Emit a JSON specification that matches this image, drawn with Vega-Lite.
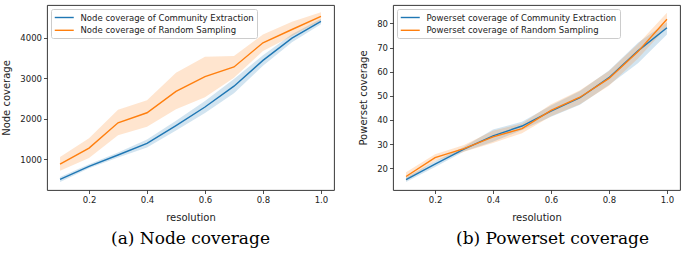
{
  "$schema": "https://vega.github.io/schema/vega-lite/v6.json",
  "padding": {"left": 1, "top": 4, "right": 5, "bottom": 0},
  "spacing": 23,
  "config": {
    "view": {"stroke": "#222222", "strokeWidth": 0.9},
    "font": "DejaVu Sans",
    "axis": {"domain": false, "grid": false, "tickColor": "#222222", "tickSize": 3.5, "tickWidth": 0.8, "labelFont": "DejaVu Sans", "labelFontSize": 8.5, "labelColor": "#222222", "titleFont": "DejaVu Sans", "titleFontSize": 10, "titleFontWeight": "normal", "titleColor": "#222222", "labelPadding": 2, "titlePadding": 8},
    "legend": {"orient": "top-left", "offset": 4, "fillColor": "rgba(255,255,255,0.8)", "strokeColor": "#cccccc", "cornerRadius": 2, "padding": 3, "symbolType": "M-1,0H3", "symbolSize": 90.25, "symbolStrokeWidth": 1.4, "labelFont": "DejaVu Sans", "labelFontSize": 8.5, "labelOffset": 15.5, "rowPadding": 2.8, "labelColor": "#222222", "labelLimit": 0},
    "title": {"font": "DejaVu Serif", "fontSize": 17, "fontWeight": "normal", "orient": "bottom", "color": "#000000", "offset": 9, "anchor": "middle"}
  },
  "datasets": {
    "d": [
      {"panel": "node", "series": "Node coverage of Community Extraction", "resolution": 0.1, "value": 500, "lo": 440, "hi": 560},
      {"panel": "node", "series": "Node coverage of Community Extraction", "resolution": 0.2, "value": 825, "lo": 775, "hi": 875},
      {"panel": "node", "series": "Node coverage of Community Extraction", "resolution": 0.3, "value": 1105, "lo": 1045, "hi": 1165},
      {"panel": "node", "series": "Node coverage of Community Extraction", "resolution": 0.4, "value": 1390, "lo": 1290, "hi": 1490},
      {"panel": "node", "series": "Node coverage of Community Extraction", "resolution": 0.5, "value": 1830, "lo": 1710, "hi": 1950},
      {"panel": "node", "series": "Node coverage of Community Extraction", "resolution": 0.6, "value": 2290, "lo": 2140, "hi": 2440},
      {"panel": "node", "series": "Node coverage of Community Extraction", "resolution": 0.7, "value": 2805, "lo": 2630, "hi": 2980},
      {"panel": "node", "series": "Node coverage of Community Extraction", "resolution": 0.8, "value": 3442, "lo": 3310, "hi": 3570},
      {"panel": "node", "series": "Node coverage of Community Extraction", "resolution": 0.9, "value": 3992, "lo": 3890, "hi": 4090},
      {"panel": "node", "series": "Node coverage of Community Extraction", "resolution": 1.0, "value": 4405, "lo": 4335, "hi": 4470},
      {"panel": "node", "series": "Node coverage of Random Sampling", "resolution": 0.1, "value": 878, "lo": 713, "hi": 1058},
      {"panel": "node", "series": "Node coverage of Random Sampling", "resolution": 0.2, "value": 1275, "lo": 1030, "hi": 1520},
      {"panel": "node", "series": "Node coverage of Random Sampling", "resolution": 0.3, "value": 1900, "lo": 1590, "hi": 2220},
      {"panel": "node", "series": "Node coverage of Random Sampling", "resolution": 0.4, "value": 2148, "lo": 1800, "hi": 2460},
      {"panel": "node", "series": "Node coverage of Random Sampling", "resolution": 0.5, "value": 2675, "lo": 2234, "hi": 3137},
      {"panel": "node", "series": "Node coverage of Random Sampling", "resolution": 0.6, "value": 3040, "lo": 2530, "hi": 3530},
      {"panel": "node", "series": "Node coverage of Random Sampling", "resolution": 0.7, "value": 3280, "lo": 3014, "hi": 3549},
      {"panel": "node", "series": "Node coverage of Random Sampling", "resolution": 0.8, "value": 3877, "lo": 3672, "hi": 4084},
      {"panel": "node", "series": "Node coverage of Random Sampling", "resolution": 0.9, "value": 4205, "lo": 4042, "hi": 4394},
      {"panel": "node", "series": "Node coverage of Random Sampling", "resolution": 1.0, "value": 4527, "lo": 4428, "hi": 4634},
      {"panel": "powerset", "series": "Powerset coverage of Community Extraction", "resolution": 0.1, "value": 15.3, "lo": 14.3, "hi": 16.3},
      {"panel": "powerset", "series": "Powerset coverage of Community Extraction", "resolution": 0.2, "value": 21.7, "lo": 20.5, "hi": 22.9},
      {"panel": "powerset", "series": "Powerset coverage of Community Extraction", "resolution": 0.3, "value": 27.9, "lo": 26.9, "hi": 28.9},
      {"panel": "powerset", "series": "Powerset coverage of Community Extraction", "resolution": 0.4, "value": 33.4, "lo": 31.0, "hi": 36.0},
      {"panel": "powerset", "series": "Powerset coverage of Community Extraction", "resolution": 0.5, "value": 37.5, "lo": 35.8, "hi": 39.3},
      {"panel": "powerset", "series": "Powerset coverage of Community Extraction", "resolution": 0.6, "value": 43.7, "lo": 41.3, "hi": 46.0},
      {"panel": "powerset", "series": "Powerset coverage of Community Extraction", "resolution": 0.7, "value": 49.2, "lo": 46.3, "hi": 52.0},
      {"panel": "powerset", "series": "Powerset coverage of Community Extraction", "resolution": 0.8, "value": 57.5, "lo": 54.5, "hi": 60.5},
      {"panel": "powerset", "series": "Powerset coverage of Community Extraction", "resolution": 0.9, "value": 68.6, "lo": 63.5, "hi": 72.0},
      {"panel": "powerset", "series": "Powerset coverage of Community Extraction", "resolution": 1.0, "value": 78.2, "lo": 75.4, "hi": 80.5},
      {"panel": "powerset", "series": "Powerset coverage of Random Sampling", "resolution": 0.1, "value": 16.6, "lo": 14.8, "hi": 18.4},
      {"panel": "powerset", "series": "Powerset coverage of Random Sampling", "resolution": 0.2, "value": 24.4, "lo": 23.0, "hi": 25.8},
      {"panel": "powerset", "series": "Powerset coverage of Random Sampling", "resolution": 0.3, "value": 28.1, "lo": 26.8, "hi": 29.6},
      {"panel": "powerset", "series": "Powerset coverage of Random Sampling", "resolution": 0.4, "value": 33.0, "lo": 30.5, "hi": 35.5},
      {"panel": "powerset", "series": "Powerset coverage of Random Sampling", "resolution": 0.5, "value": 36.4, "lo": 34.5, "hi": 38.5},
      {"panel": "powerset", "series": "Powerset coverage of Random Sampling", "resolution": 0.6, "value": 44.0, "lo": 41.5, "hi": 46.5},
      {"panel": "powerset", "series": "Powerset coverage of Random Sampling", "resolution": 0.7, "value": 49.4, "lo": 46.5, "hi": 52.3},
      {"panel": "powerset", "series": "Powerset coverage of Random Sampling", "resolution": 0.8, "value": 57.2, "lo": 54.2, "hi": 60.3},
      {"panel": "powerset", "series": "Powerset coverage of Random Sampling", "resolution": 0.9, "value": 68.3, "lo": 65.5, "hi": 71.5},
      {"panel": "powerset", "series": "Powerset coverage of Random Sampling", "resolution": 1.0, "value": 81.7, "lo": 78.5, "hi": 84.4}
    ]
  },
  "hconcat": [
    {
      "width": 287,
      "height": 185,
      "title": {"text": "(a) Node coverage"},
      "data": {"name": "d"},
      "transform": [{"filter": "datum.panel === 'node'"}],
      "encoding": {
        "x": {"field": "resolution", "type": "quantitative", "scale": {"domain": [0.055, 1.045], "nice": false, "zero": false}, "axis": {"title": "resolution", "values": [0.2, 0.4, 0.6, 0.8, 1.0], "format": ".1f"}},
        "y": {"field": "value", "type": "quantitative", "scale": {"domain": [240, 4810], "nice": false, "zero": false}, "axis": {"title": "Node coverage", "values": [1000, 2000, 3000, 4000], "format": "d"}}
      },
      "layer": [
        {
          "transform": [{"filter": "datum.series === 'Node coverage of Community Extraction'"}],
          "mark": {"type": "area", "opacity": 0.2, "color": "#1f77b4"},
          "encoding": {"y": {"field": "lo", "type": "quantitative"}, "y2": {"field": "hi"}}
        },
        {
          "transform": [{"filter": "datum.series === 'Node coverage of Random Sampling'"}],
          "mark": {"type": "area", "opacity": 0.2, "color": "#ff7f0e"},
          "encoding": {"y": {"field": "lo", "type": "quantitative"}, "y2": {"field": "hi"}}
        },
        {
          "mark": {"type": "line", "strokeWidth": 1.4},
          "encoding": {
            "color": {"field": "series", "type": "nominal", "scale": {"domain": ["Node coverage of Community Extraction", "Node coverage of Random Sampling"], "range": ["#1f77b4", "#ff7f0e"]}, "legend": {"title": null}}
          }
        }
      ]
    },
    {
      "width": 287,
      "height": 185,
      "title": {"text": "(b) Powerset coverage", "dx": 16},
      "data": {"name": "d"},
      "transform": [{"filter": "datum.panel === 'powerset'"}],
      "encoding": {
        "x": {"field": "resolution", "type": "quantitative", "scale": {"domain": [0.055, 1.045], "nice": false, "zero": false}, "axis": {"title": "resolution", "values": [0.2, 0.4, 0.6, 0.8, 1.0], "format": ".1f"}},
        "y": {"field": "value", "type": "quantitative", "scale": {"domain": [11, 87.6], "nice": false, "zero": false}, "axis": {"title": "Powerset coverage", "values": [20, 30, 40, 50, 60, 70, 80]}}
      },
      "layer": [
        {
          "transform": [{"filter": "datum.series === 'Powerset coverage of Community Extraction'"}],
          "mark": {"type": "area", "opacity": 0.2, "color": "#1f77b4"},
          "encoding": {"y": {"field": "lo", "type": "quantitative"}, "y2": {"field": "hi"}}
        },
        {
          "transform": [{"filter": "datum.series === 'Powerset coverage of Random Sampling'"}],
          "mark": {"type": "area", "opacity": 0.2, "color": "#ff7f0e"},
          "encoding": {"y": {"field": "lo", "type": "quantitative"}, "y2": {"field": "hi"}}
        },
        {
          "mark": {"type": "line", "strokeWidth": 1.4},
          "encoding": {
            "color": {"field": "series", "type": "nominal", "scale": {"domain": ["Powerset coverage of Community Extraction", "Powerset coverage of Random Sampling"], "range": ["#1f77b4", "#ff7f0e"]}, "legend": {"title": null}}
          }
        }
      ]
    }
  ],
  "resolve": {"scale": {"color": "independent"}}
}
